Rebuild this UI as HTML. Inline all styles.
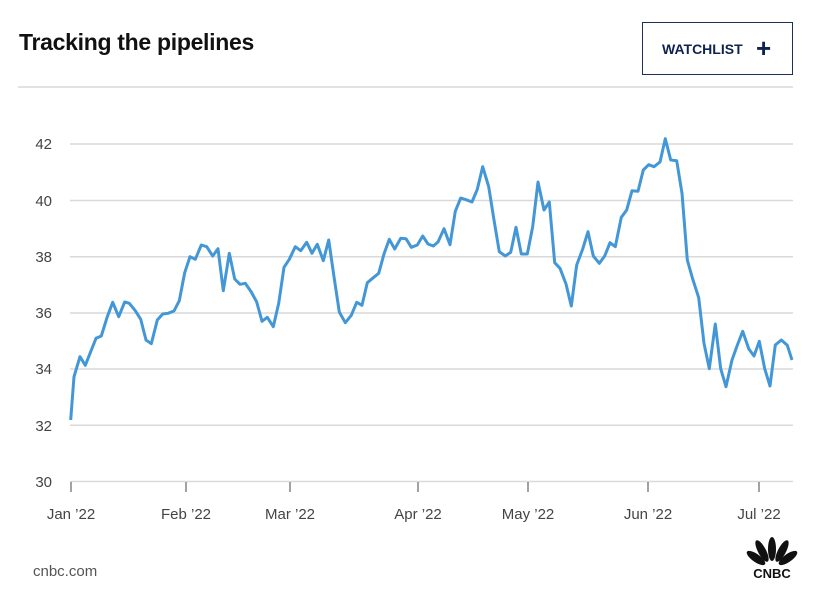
<!DOCTYPE html>
<html><head><style>
body{margin:0;background:#fff;font-family:"Liberation Sans",sans-serif;}
.wrap{position:relative;width:826px;height:591px;overflow:hidden;}
.title{position:absolute;left:19px;top:29px;font-size:23px;font-weight:bold;color:#111;letter-spacing:-0.3px;}
.btn{position:absolute;left:642px;top:22px;width:151px;height:53px;border:1px solid #1b2f5a;box-sizing:border-box;color:#0f2352;font-size:14px;font-weight:bold;}
.btn span{position:absolute;left:19px;top:18px;}
.btn b{position:absolute;left:113px;top:10px;font-size:26px;font-weight:bold;}
</style></head><body><div class="wrap">
<div class="title">Tracking the pipelines</div>
<div class="btn"><span>WATCHLIST</span><b>+</b></div>
<svg width="826" height="591" style="position:absolute;left:0;top:0">
<g stroke="#d9d9d9" stroke-width="1.5">
<line x1="18" y1="87" x2="793" y2="87"/>
<line x1="70" y1="144" x2="793" y2="144"/>
<line x1="70" y1="200.5" x2="793" y2="200.5"/>
<line x1="70" y1="256.7" x2="793" y2="256.7"/>
<line x1="70" y1="313" x2="793" y2="313"/>
<line x1="70" y1="369" x2="793" y2="369"/>
<line x1="70" y1="425.3" x2="793" y2="425.3"/>
<line x1="70" y1="481.5" x2="793" y2="481.5"/>
</g>
<g font-family="Liberation Sans" font-size="15" fill="#444" text-anchor="end">
<text x="52" y="149">42</text><text x="52" y="206">40</text><text x="52" y="262">38</text>
<text x="52" y="318">36</text><text x="52" y="374">34</text><text x="52" y="431">32</text><text x="52" y="487">30</text>
</g>
<g stroke="#444" stroke-width="1">
<line x1="71" y1="482" x2="71" y2="492"/><line x1="186" y1="482" x2="186" y2="492"/>
<line x1="290" y1="482" x2="290" y2="492"/><line x1="418" y1="482" x2="418" y2="492"/>
<line x1="528" y1="482" x2="528" y2="492"/><line x1="648" y1="482" x2="648" y2="492"/>
<line x1="759" y1="482" x2="759" y2="492"/>
</g>
<g font-family="Liberation Sans" font-size="15" fill="#444" text-anchor="middle">
<text x="71" y="519">Jan ’22</text><text x="186" y="519">Feb ’22</text><text x="290" y="519">Mar ’22</text>
<text x="418" y="519">Apr ’22</text><text x="528" y="519">May ’22</text><text x="648" y="519">Jun ’22</text>
<text x="759" y="519">Jul ’22</text>
</g>
<text x="33" y="576" font-family="Liberation Sans" font-size="15" fill="#555">cnbc.com</text>
<g fill="#111">
<ellipse cx="756" cy="558" rx="4" ry="11" transform="rotate(-55 756 558)"/>
<ellipse cx="762" cy="551" rx="4" ry="12" transform="rotate(-28 762 551)"/>
<ellipse cx="772" cy="549" rx="4" ry="12"/>
<ellipse cx="782" cy="551" rx="4" ry="12" transform="rotate(28 782 551)"/>
<ellipse cx="788" cy="558" rx="4" ry="11" transform="rotate(55 788 558)"/>
<text x="772" y="578" font-family="Liberation Sans" font-size="13" font-weight="bold" text-anchor="middle">CNBC</text>
</g>
<polyline fill="none" stroke="#4497d7" stroke-width="3" stroke-linejoin="round" points="70.7,420 74,376.7 80,356.7 85.3,365.3 90.7,351.7 96,338.3 101.3,336 107.3,316.7 112.7,302.3 118.7,316.7 124.7,302 129.3,303.3 135.3,310.7 140.7,319.3 146,340 151.3,343.7 157.3,320 162.7,314 168,313.3 174,311 179.3,300.7 184.7,272.7 190,256.7 195.3,259.3 201.3,245 206.7,246.7 212.7,256 218,248.7 223.3,290.7 229.3,253.3 234.7,279 240,284.3 245.3,283.3 251.3,292 256.7,302 262,321.3 267.3,317.3 273.3,326.7 278.7,303.3 284,267.3 289.3,259.3 295.3,246.7 300.7,250.7 306.7,242.3 312,253.3 317.3,244.3 323.3,260.7 328.7,240 334,276.7 339.3,312 345.3,322.7 351.3,315.3 356.7,302.3 362,305.3 367.3,282.7 373.3,277.7 378.7,273.3 384,254 389.3,239.3 394.7,249 400.7,238.3 406,238.7 411.3,247.3 417.3,245 422.7,236 428,244 433.3,246 438,242 444,228.7 450,244.7 455.3,211.3 460.7,198 466,199.7 472,202 477.3,189.3 482.7,166.7 488.7,186.7 494,220 499.3,251.7 505.3,256 510.7,252.3 516,227.3 521.3,254 527.3,254 532.7,226.7 538,182 544,210 549.3,202 554.7,262.7 560,268.3 566,284 571.3,306 576.7,265 582.7,249 588,231.7 593.3,256 599.3,263.3 604.7,256 610,242.7 615.3,246.7 621.3,217.3 626.7,210 632,190.7 638,191.3 643.3,170 648.7,164.7 654,166.7 660,162 665.3,138.7 670.7,160 676.7,160.7 682,193.3 687.3,260 692.7,279 698.7,297.7 704,343.3 709.3,368.7 715.3,324 720.7,368.7 726,386.7 732,360 737.3,345.3 742.7,331.3 748.7,348.7 754,356 759.3,341.3 764.7,368.7 770,386 775.3,345 781.3,340 787.3,345.3 792,360"/>
</svg>
</div></body></html>
